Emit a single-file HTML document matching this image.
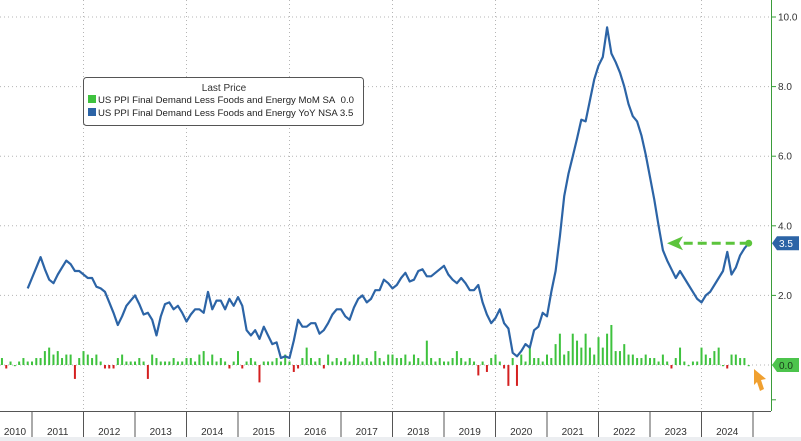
<!DOCTYPE html>
<html><head><meta charset="utf-8"><style>
html,body{margin:0;padding:0;background:#fff;}
svg{display:block;font-family:"Liberation Sans",sans-serif;}
</style></head><body>
<svg id="chart" width="801" height="441" viewBox="0 0 801 441">
<rect x="0" y="0" width="801" height="441" fill="#fff"/>
<g id="grid"></g>
<g id="bars"></g>
<path id="line" fill="none" stroke="#2c64a6" stroke-width="2.2" stroke-linejoin="round"/>
<g id="axes"></g>
<g>
<rect x="83.5" y="77.5" width="280" height="48" rx="3" fill="#fff" stroke="#555" stroke-width="1"/>
<text x="224" y="91" font-size="10" fill="#333" text-anchor="middle">Last Price</text>
<rect x="88" y="95" width="8" height="8" fill="#3ec23e"/>
<text x="98" y="103" font-size="9.6" fill="#222">US PPI Final Demand Less Foods and Energy MoM SA&#160;&#160;0.0</text>
<rect x="88" y="108" width="8" height="8" fill="#2c64a6"/>
<text x="98" y="116" font-size="9.6" fill="#222">US PPI Final Demand Less Foods and Energy YoY NSA 3.5</text>
</g>
<g id="annot"></g>
</svg>
<script>
// YoY monthly values starting Dec 2010 (month index -1 relative to Jan 2011)
const yoyStart = -1;
const yoyValues = [2.2,
2.5,2.8,3.1,2.75,2.45,2.35,2.6,2.8,3.0,2.9,2.7,2.7,
2.6,2.5,2.5,2.25,2.2,2.1,1.8,1.5,1.15,1.4,1.7,1.85,
2.0,1.75,1.45,1.5,1.3,0.85,1.4,1.75,1.8,1.6,1.7,1.5,
1.25,1.45,1.6,1.6,1.5,2.1,1.6,1.85,1.85,1.6,1.9,1.7,
1.95,1.7,1.0,0.85,1.0,0.75,1.1,0.85,0.6,0.65,0.2,0.25,
0.2,0.7,1.3,1.1,1.1,1.2,1.2,0.9,1.0,1.2,1.45,1.6,
1.6,1.4,1.3,1.65,1.9,2.0,1.8,1.9,2.15,2.15,2.45,2.35,
2.2,2.3,2.5,2.65,2.4,2.45,2.7,2.75,2.55,2.55,2.65,2.75,
2.85,2.6,2.45,2.35,2.5,2.35,2.15,2.15,2.3,1.8,1.45,1.2,
1.35,1.6,1.2,1.05,0.35,0.25,0.4,0.6,0.5,1.0,1.1,1.5,
1.4,2.1,2.7,3.7,4.85,5.5,6.0,6.5,7.05,7.0,7.6,8.2,
8.6,8.85,9.7,8.95,8.7,8.4,8.0,7.5,7.15,7.0,6.6,6.05,
5.4,4.75,4.0,3.3,3.0,2.75,2.5,2.7,2.5,2.3,2.1,1.9,
1.8,2.0,2.1,2.3,2.5,2.7,3.25,2.6,2.8,3.15,3.35,3.5];
// MoM monthly values starting Jun 2010 (month index -7)
const momStart = -7;
const momValues = [0.2,-0.1,0.1,0.0,0.1,0.2,0.1,
0.1,0.2,0.2,0.4,0.5,0.3,0.4,0.2,0.3,0.3,-0.4,0.2,
0.4,0.3,0.2,0.3,0.1,-0.1,-0.1,-0.1,0.2,0.3,0.1,0.1,
0.1,0.2,0.1,-0.4,0.3,0.2,0.1,0.1,0.1,0.2,0.1,0.1,
0.2,0.2,0.1,0.3,0.4,0.1,0.3,0.1,0.2,0.1,-0.1,0.1,
0.4,-0.1,0.1,0.2,0.1,-0.5,0.1,0.1,0.1,0.2,0.1,0.3,
0.1,-0.2,-0.1,0.2,0.5,0.2,0.1,0.2,-0.1,0.3,0.1,0.2,
0.1,0.2,0.1,0.3,0.3,0.1,0.2,0.1,0.4,0.2,0.1,0.3,
0.3,0.2,0.2,0.3,0.1,0.3,0.2,0.1,0.7,0.2,0.1,0.2,
0.1,0.1,0.2,0.4,0.2,0.1,0.2,0.1,-0.3,0.1,-0.2,0.2,
0.3,0.1,-0.1,-0.6,0.2,-0.6,0.3,0.1,0.5,0.2,0.2,0.1,
0.3,0.2,0.6,0.9,0.3,0.4,0.9,0.7,0.5,0.9,0.5,0.3,
0.8,0.5,0.9,1.15,0.4,0.4,0.6,0.3,0.3,0.2,0.2,0.3,
0.2,0.2,0.1,0.3,0.1,-0.1,0.2,0.5,0.1,0.0,0.1,0.1,
0.5,0.3,0.2,0.4,0.5,0.0,-0.1,0.3,0.3,0.2,0.2,0.0];
const yTicks = [10,8,6,4,2,0];
const yTickLabels = ["10.0","8.0","6.0","4.0","2.0","0.0"];
const years = [2010,2011,2012,2013,2014,2015,2016,2017,2018,2019,2020,2021,2022,2023,2024];
const lastYoY = 3.5;

const NS="http://www.w3.org/2000/svg";
const X0=32, MW=51.5/12, Y0=365, YU=34.8, AXR=771, AXB=411;
const xm = m => X0 + m*MW;
const yv = v => Y0 - v*YU;
function mk(tag, attrs, parent){const e=document.createElementNS(NS,tag);for(const k in attrs)e.setAttribute(k,attrs[k]);parent.appendChild(e);return e;}
const grid=document.getElementById('grid'), axes=document.getElementById('axes'), bars=document.getElementById('bars'), annot=document.getElementById('annot');

yTicks.forEach((t,i)=>{
  const g=mk('line',{x1:0,x2:AXR,y1:yv(t),y2:yv(t),stroke:'#b5b5b5','stroke-width':1,'stroke-dasharray':'1,3'},grid);
  
  
  const tk=mk('line',{x1:AXR,x2:AXR+5,y1:yv(t),y2:yv(t),stroke:'#3a9c3a','stroke-width':1},axes);
  
  
  if(t!==0){
    const tx=mk('text',{x:778,y:yv(t)+3.5,'font-size':10,fill:'#333'},axes);
    tx.textContent=yTickLabels[i];
    
    
  }
});
const tkm=mk('line',{x1:AXR,x2:AXR+5,y1:yv(-1),y2:yv(-1),stroke:'#3a9c3a','stroke-width':1},axes);



years.forEach((yr,i)=>{
  const m=(yr-2011)*12;
  if(yr%2===0 && yr>2010){
    const v=mk('line',{x1:xm(m),x2:xm(m),y1:0,y2:AXB,stroke:'#b5b5b5','stroke-width':1,'stroke-dasharray':'1,3'},grid);
    
    
  }
  if(yr>2010){
    const s=mk('line',{x1:xm(m),x2:xm(m),y1:AXB,y2:441,stroke:'#555','stroke-width':1},axes);
    
    
  }
  const cx = yr===2010 ? 15 : xm(m+6);
  const t=mk('text',{x:cx,y:435,'font-size':10,fill:'#333','text-anchor':'middle'},axes);
  t.textContent=yr;
  
  
});
const s2=mk('line',{x1:xm(168),x2:xm(168),y1:AXB,y2:441,stroke:'#555','stroke-width':1},axes);



const xa=mk('line',{x1:0,x2:AXR,y1:AXB+0.5,y2:AXB+0.5,stroke:'#555','stroke-width':1},axes);


const ya=mk('line',{x1:AXR+0.5,x2:AXR+0.5,y1:0,y2:AXB,stroke:'#3a9c3a','stroke-width':1},axes);


const sb=mk('rect',{x:0,y:437,width:801,height:4,fill:'#eceef1'},axes);



momValues.forEach((v,i)=>{
  const m=momStart+i, x=xm(m)-1;
  const h=Math.abs(v)*YU;
  const r=mk('rect',{x:x,y:v>=0?Y0-h:Y0,width:2,height:Math.max(h,1.2),fill:v>=0?'#3ec23e':'#d42020'},bars);
  
  
});

let d='';
yoyValues.forEach((v,i)=>{d+=(i?'L':'M')+xm(yoyStart+i).toFixed(1)+','+yv(v).toFixed(1);});
document.getElementById('line').setAttribute('d',d);

// annotation arrow from last value
const lx=xm(yoyStart+yoyValues.length-1), ly=yv(lastYoY);
const al=mk('line',{x1:lx,x2:680,y1:ly,y2:ly,stroke:'#5cc43c','stroke-width':3,'stroke-dasharray':'9,5'},annot);


const ah=mk('polygon',{points:`667,${ly} 683,${ly-7} 679,${ly} 683,${ly+7}`,fill:'#5cc43c'},annot);


const ad=mk('circle',{cx:lx,cy:ly,r:3.5,fill:'#5cc43c'},annot);



const b1=mk('path',{d:`M772,${ly} L777,${ly-7} L799,${ly-7} L799,${ly+7} L777,${ly+7} Z`,fill:'#2c64a6'},annot);


const bt1=mk('text',{x:779,y:ly+4,'font-size':10,fill:'#fff'},annot);
bt1.textContent=lastYoY.toFixed(1);


const lm=momValues[momValues.length-1];
const b2=mk('path',{d:`M772,${yv(lm)} L777,${yv(lm)-7} L799,${yv(lm)-7} L799,${yv(lm)+7} L777,${yv(lm)+7} Z`,fill:'#4cc44c'},annot);


const bt2=mk('text',{x:779,y:yv(lm)+4,'font-size':10,fill:'#1a3a1a'},annot);
bt2.textContent=lm.toFixed(1);



const cur=mk('path',{d:'M754,369 L766,379 L761,380 L764,389 L760,391 L757,382 L754,385 Z',fill:'#f0a030'},annot);


</script>
</body></html>
